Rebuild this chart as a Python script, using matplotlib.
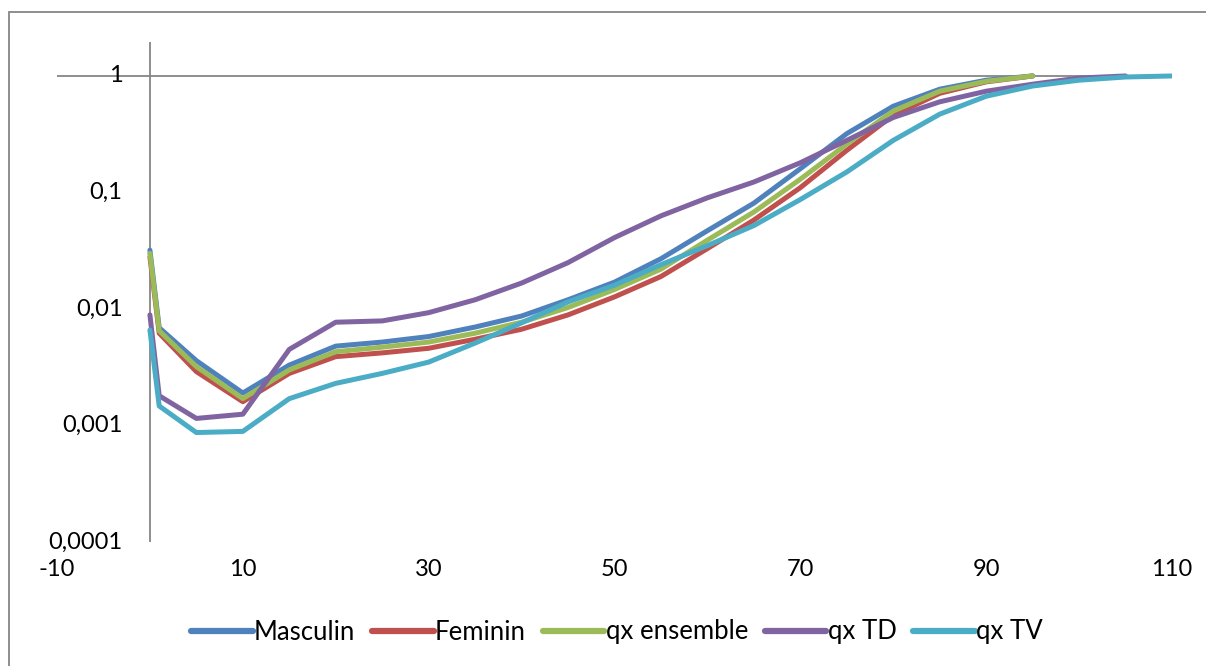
import numpy as np
import matplotlib
matplotlib.use("Agg")
import matplotlib.pyplot as plt
from matplotlib.patches import Rectangle
from matplotlib.ticker import FixedLocator, NullFormatter

plt.rcParams['font.family'] = ['Lato', 'DejaVu Sans']
plt.rcParams['axes.unicode_minus'] = False

# ages
ages = [0, 1, 5, 10, 15, 20, 25, 30, 35, 40, 45, 50, 55, 60, 65, 70, 75, 80, 85, 90, 95, 100, 105, 110]

masculin = [0.032, 0.0069, 0.0036, 0.0019, 0.0033, 0.0048, 0.0052, 0.0058, 0.0070, 0.0087, 0.012,
            0.017, 0.027, 0.047, 0.081, 0.16, 0.32, 0.55, 0.77, 0.92, 1.0]
feminin = [0.028, 0.0062, 0.0029, 0.0016, 0.0028, 0.0039, 0.0042, 0.0046, 0.0055, 0.0067, 0.0089,
           0.0127, 0.019, 0.033, 0.058, 0.11, 0.23, 0.46, 0.71, 0.89, 1.0]
qx_ensemble = [0.030, 0.0065, 0.0032, 0.0017, 0.0030, 0.0043, 0.0047, 0.0052, 0.0062, 0.0077, 0.0103,
               0.0147, 0.022, 0.039, 0.068, 0.13, 0.26, 0.50, 0.74, 0.90, 1.0]
qx_td = [0.0089, 0.0018, 0.00115, 0.00125, 0.0045, 0.0077, 0.0079, 0.0093, 0.012, 0.0167, 0.025,
         0.041, 0.063, 0.090, 0.123, 0.18, 0.28, 0.44, 0.60, 0.74, 0.85, 0.96, 1.0]
qx_tv = [0.0066, 0.00147, 0.00087, 0.00089, 0.0017, 0.0023, 0.0028, 0.0035, 0.0051, 0.0076, 0.0115,
         0.016, 0.024, 0.035, 0.052, 0.087, 0.15, 0.28, 0.47, 0.67, 0.82, 0.92, 0.98, 1.0]

names = ["Masculin", "Feminin", "qx ensemble", "qx TD", "qx TV"]
series = [masculin, feminin, qx_ensemble, qx_td, qx_tv]
colors = ["#4F81BD", "#C0504D", "#9BBB59", "#8064A2", "#4BACC6"]

ytick_vals = [1e-4, 1e-3, 1e-2, 1e-1, 1]
ytick_labels = ["0,0001", "0,001", "0,01", "0,1", "1"]
xtick_vals = [-10, 10, 30, 50, 70, 90, 110]

W, H = 1206, 666
fig = plt.figure(figsize=(W / 100, H / 100), dpi=100)
ax = fig.add_axes([57 / W, 1 - 542 / H, 1115 / W, 500 / H])

for name, vals, c in zip(names, series, colors):
    ax.plot(ages[:len(vals)], vals, color=c, lw=3.6, label=name,
            solid_capstyle='round', solid_joinstyle='round')

ax.set_yscale('log')
ax.set_xlim(-10, 110)
ax.set_ylim(1e-4, 1.957)

for s in ax.spines.values():
    s.set_visible(False)
ax.axhline(1, color='#868686', lw=1.3, zorder=0)
ax.axvline(0, color='#868686', lw=1.3, zorder=0)

ax.xaxis.set_major_locator(FixedLocator(xtick_vals))
ax.xaxis.set_minor_locator(FixedLocator([]))
ax.yaxis.set_major_locator(FixedLocator(ytick_vals))
ax.yaxis.set_minor_locator(FixedLocator([]))
ax.yaxis.set_major_formatter(NullFormatter())
ax.yaxis.set_minor_formatter(NullFormatter())
ax.tick_params(axis='both', length=0, labelsize=17, colors='black')
ax.tick_params(axis='x', pad=12)
# y labels sit next to the vertical axis at x=0
for v, t in zip(ytick_vals, ytick_labels):
    ax.text(-2.95, v, t, ha='right', va='center', fontsize=17)

leg = fig.legend(loc='center', bbox_to_anchor=(617 / W, 1 - 632 / H), ncol=5, frameon=False,
                 fontsize=18.5, handlelength=2.4, handletextpad=0.05, columnspacing=0.65)
for line in leg.get_lines():
    line.set_linewidth(4.5)

fig.patches.append(Rectangle((9 / W, -0.01), 1.02, 1 - 12 / H + 0.01, transform=fig.transFigure,
                             fill=False, edgecolor='#868686', lw=1.3))

fig.savefig("out.png", dpi=100)
